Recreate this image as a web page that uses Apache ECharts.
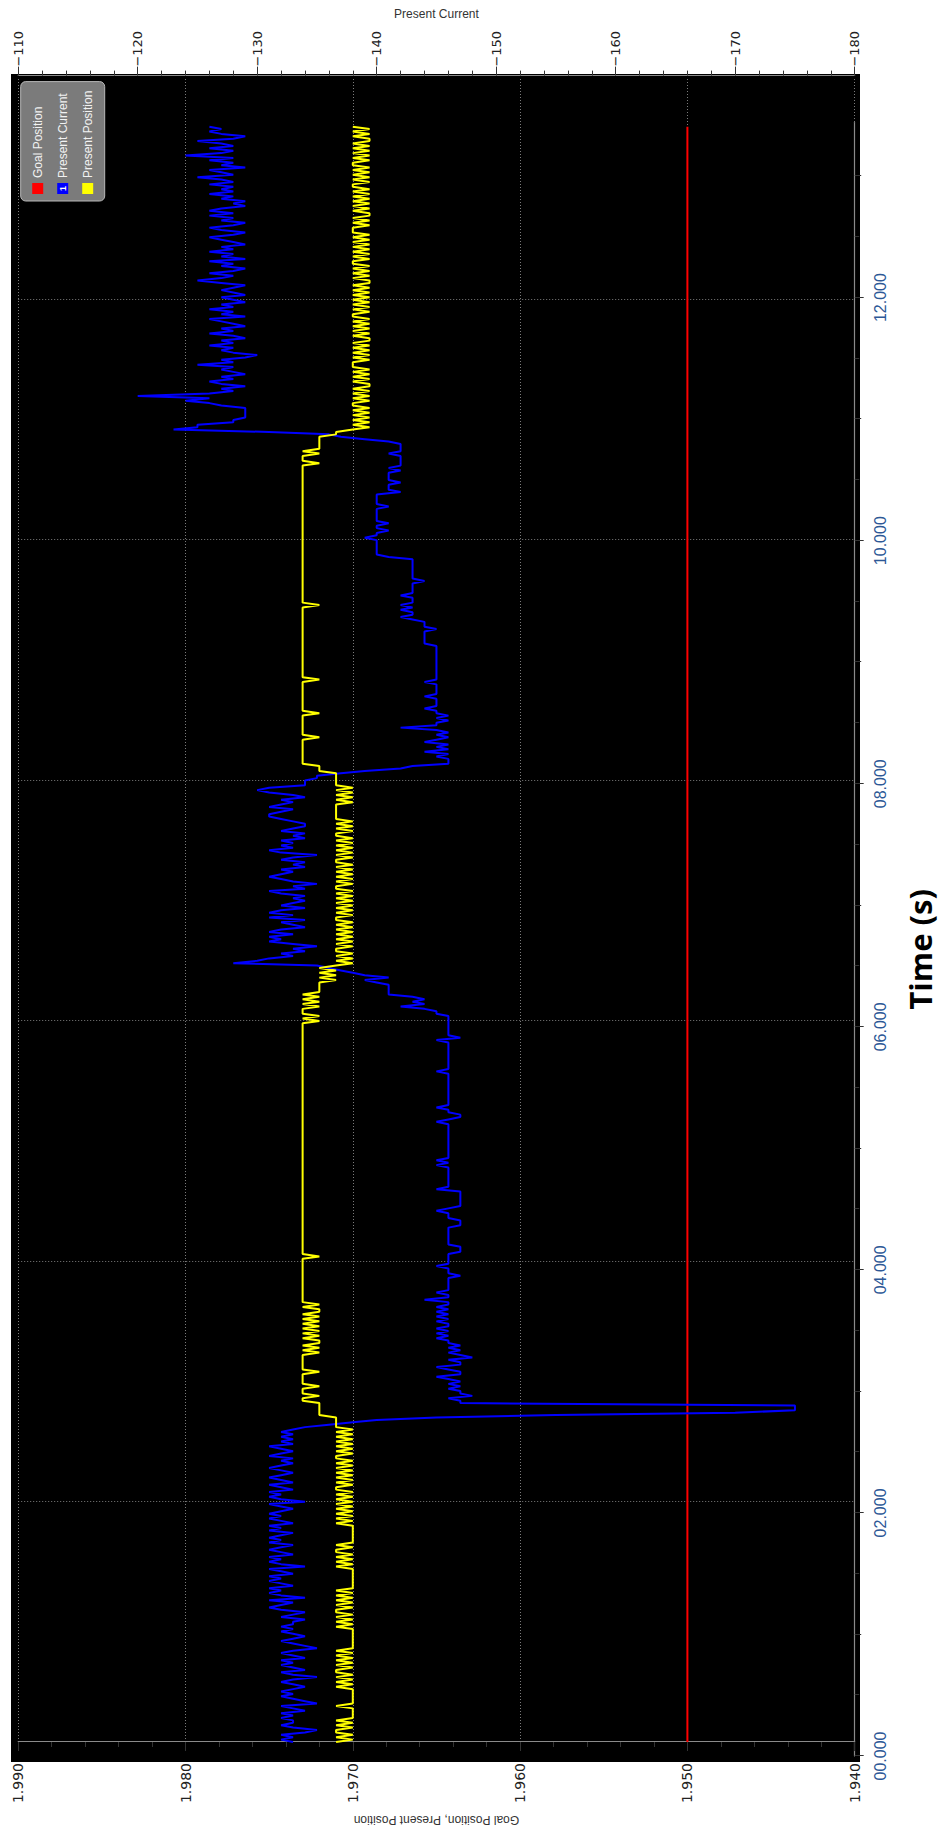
<!DOCTYPE html>
<html>
<head>
<meta charset="utf-8">
<title>Goal Position, Present Position, Present Current</title>
<script src="https://cdn.jsdelivr.net/npm/echarts@6/dist/echarts.min.js"></script>
<style>
  html, body { margin: 0; padding: 0; background: #fff; overflow: hidden; width: 949px; height: 1834px; }
  /* the chart is laid out landscape and turned a quarter turn counter-clockwise */
  #chart { position: absolute; left: 0; top: 1834px; width: 1834px; height: 949px;
           transform-origin: 0 0; transform: rotate(-90deg); }
</style>
</head>
<body>
<div id="chart"></div>
<script>
// ---- recorded samples (one sample every 20 ms, one row per second) ----
const SAMPLE_STEP = 0.02; // seconds

const presentCurrent = [
  -133,-132,-133,-132,-134,-135,-133,-132,-133,-133,-132,-133,-132,-134,-133,-132,-135,-134,-133,-132,-133,-132,-133,-134,-133,
  -132,-133,-135,-133,-132,-134,-133,-132,-133,-132,-134,-133,-132,-133,-135,-134,-133,-132,-133,-134,-133,-132,-133,-132,-133,
  -133,-134,-132,-133,-134,-132,-131,-132,-133,-131,-134,-132,-131,-132,-131,-133,-132,-131,-132,-131,-133,-132,-131,-134,-132,
  -131,-132,-131,-133,-132,-131,-132,-133,-131,-132,-131,-132,-133,-131,-132,-131,-133,-132,-131,-132,-131,-132,-133,-132,-131,
  -134,-132,-131,-132,-131,-133,-132,-131,-133,-132,-131,-132,-133,-132,-131,-132,-133,-132,-133,-131,-132,-133,-132,-131,-133,
  -132,-133,-132,-133,-132,-133,-134,-136,-138,-140,-145,-155,-170,-175,-175,-175,-147,-147,-146,-148,-147,-147,-146,-147,-146,
  -147,-146,-145,-147,-147,-146,-145,-147,-147,-146,-148,-147,-146,-147,-146,-147,-146,-146,-145,-146,-145,-146,-145,-146,-146,
  -145,-146,-145,-146,-145,-146,-145,-146,-146,-144,-146,-146,-145,-146,-146,-146,-146,-146,-146,-147,-146,-146,-146,-145,-146,
  -146,-146,-146,-146,-147,-147,-147,-146,-146,-146,-146,-146,-146,-146,-146,-147,-147,-147,-146,-146,-146,-145,-146,-147,-147,
  -147,-147,-147,-147,-147,-145,-146,-146,-146,-146,-146,-146,-146,-146,-146,-145,-146,-145,-146,-146,-146,-146,-146,-146,-146,
  -146,-146,-146,-146,-146,-146,-146,-146,-145,-146,-147,-147,-146,-146,-145,-146,-146,-146,-146,-146,-146,-146,-146,-146,-146,
  -146,-146,-146,-146,-145,-146,-146,-146,-146,-146,-146,-146,-146,-146,-146,-146,-146,-145,-147,-146,-146,-146,-146,-146,-146,
  -146,-146,-146,-145,-145,-144,-142,-144,-143,-144,-143,-141,-141,-141,-141,-141,-140,-139,-141,-139,-138,-137,-136,-135,-128,
  -130,-131,-133,-132,-134,-133,-135,-133,-131,-132,-131,-133,-131,-132,-134,-133,-132,-134,-131,-133,-131,-132,-134,-132,-133,
  -134,-133,-134,-132,-131,-134,-133,-135,-133,-132,-131,-132,-133,-132,-134,-133,-134,-132,-133,-135,-132,-131,-133,-132,-133,
  -132,-134,-133,-134,-132,-133,-134,-134,-133,-132,-131,-131,-132,-133,-131,-132,-133,-132,-134,-133,-131,-130,-131,-134,-134,
  -134,-135,-135,-137,-139,-142,-143,-146,-146,-146,-145,-146,-144,-146,-145,-146,-144,-145,-146,-145,-146,-145,-142,-145,-145,
  -146,-145,-146,-145,-145,-144,-145,-145,-145,-145,-144,-145,-145,-145,-145,-145,-144,-145,-145,-145,-145,-145,-145,-145,-145,
  -145,-145,-145,-145,-145,-145,-145,-144,-144,-144,-144,-144,-144,-145,-144,-144,-144,-143,-142,-143,-143,-142,-143,-142,-143,
  -143,-143,-142,-143,-143,-143,-143,-143,-144,-143,-143,-143,-143,-143,-143,-143,-143,-143,-141,-140,-140,-140,-140,-140,-140,
  -140,-139,-140,-140,-141,-140,-140,-141,-140,-140,-140,-140,-140,-140,-141,-140,-140,-140,-140,-140,-142,-141,-141,-141,-142,
  -141,-141,-141,-141,-142,-141,-142,-142,-142,-142,-142,-141,-142,-142,-142,-142,-141,-139,-137,-136,-131,-123,-125,-125,-128,
  -128,-129,-129,-129,-129,-129,-127,-126,-124,-126,-120,-126,-128,-127,-129,-127,-126,-128,-127,-129,-128,-127,-128,-125,-128,
  -127,-129,-130,-128,-127,-128,-126,-128,-127,-129,-128,-126,-128,-127,-129,-128,-127,-126,-129,-127,-128,-126,-128,-127,-129,
  -128,-127,-129,-128,-127,-128,-129,-127,-125,-127,-128,-126,-128,-129,-127,-128,-126,-129,-127,-128,-126,-128,-127,-129,-128,
  -127,-126,-128,-129,-127,-126,-128,-129,-127,-128,-126,-128,-126,-127,-129,-128,-129,-127,-128,-126,-128,-127,-128,-126,-128,
  -127,-125,-128,-127,-126,-129,-127,-128,-126,-128,-124,-127,-128,-126,-128,-127,-125,-128,-129,-127,-126,-127,-126
];

const presentPosition = [
  1.971,1.97,1.971,1.97,1.971,1.971,1.97,1.971,1.97,1.971,1.97,1.97,1.97,1.97,1.97,1.971,1.97,1.97,1.97,1.97,1.97,1.97,1.97,1.971,1.97,
  1.971,1.97,1.971,1.97,1.971,1.971,1.97,1.971,1.97,1.971,1.97,1.971,1.97,1.971,1.97,1.97,1.97,1.97,1.97,1.97,1.97,1.97,1.97,1.971,1.97,
  1.971,1.97,1.971,1.97,1.971,1.971,1.97,1.971,1.97,1.971,1.97,1.971,1.97,1.971,1.97,1.97,1.97,1.97,1.97,1.97,1.97,1.97,1.97,1.971,1.97,
  1.971,1.97,1.971,1.97,1.971,1.971,1.97,1.971,1.97,1.97,1.97,1.97,1.97,1.97,1.97,1.97,1.971,1.97,1.971,1.97,1.971,1.97,1.971,1.97,1.971,
  1.97,1.971,1.97,1.971,1.97,1.971,1.971,1.97,1.971,1.97,1.971,1.97,1.971,1.97,1.971,1.97,1.971,1.97,1.971,1.971,1.97,1.971,1.97,1.971,1.97,
  1.971,1.97,1.971,1.97,1.971,1.97,1.971,1.971,1.971,1.971,1.971,1.972,1.972,1.972,1.972,1.972,1.972,1.973,1.973,1.972,1.973,1.973,1.973,1.972,1.973,
  1.973,1.973,1.973,1.973,1.972,1.973,1.973,1.973,1.973,1.973,1.973,1.973,1.972,1.973,1.972,1.973,1.972,1.972,1.973,1.972,1.973,1.972,1.973,1.972,1.973,
  1.972,1.973,1.972,1.973,1.972,1.972,1.973,1.972,1.973,1.973,1.973,1.973,1.973,1.973,1.973,1.973,1.973,1.973,1.973,1.973,1.973,1.973,1.973,1.973,1.973,
  1.973,1.973,1.972,1.973,1.973,1.973,1.973,1.973,1.973,1.973,1.973,1.973,1.973,1.973,1.973,1.973,1.973,1.973,1.973,1.973,1.973,1.973,1.973,1.973,1.973,
  1.973,1.973,1.973,1.973,1.973,1.973,1.973,1.973,1.973,1.973,1.973,1.973,1.973,1.973,1.973,1.973,1.973,1.973,1.973,1.973,1.973,1.973,1.973,1.973,1.973,
  1.973,1.973,1.973,1.973,1.973,1.973,1.973,1.973,1.973,1.973,1.973,1.973,1.973,1.973,1.973,1.973,1.973,1.973,1.973,1.973,1.973,1.973,1.973,1.973,1.973,
  1.973,1.973,1.973,1.973,1.973,1.973,1.973,1.973,1.973,1.973,1.973,1.973,1.973,1.973,1.973,1.973,1.973,1.973,1.973,1.973,1.973,1.973,1.973,1.973,1.973,
  1.972,1.973,1.972,1.973,1.973,1.973,1.972,1.973,1.972,1.973,1.972,1.973,1.972,1.972,1.972,1.972,1.972,1.971,1.972,1.971,1.972,1.971,1.972,1.971,1.97,
  1.971,1.97,1.971,1.97,1.971,1.971,1.97,1.971,1.97,1.971,1.97,1.971,1.97,1.971,1.97,1.971,1.97,1.971,1.971,1.97,1.971,1.97,1.971,1.97,1.971,
  1.97,1.971,1.97,1.971,1.97,1.971,1.971,1.97,1.971,1.97,1.971,1.97,1.971,1.97,1.971,1.97,1.971,1.971,1.97,1.971,1.97,1.971,1.97,1.971,1.97,
  1.971,1.97,1.971,1.971,1.97,1.971,1.97,1.971,1.97,1.971,1.971,1.971,1.971,1.971,1.971,1.971,1.97,1.971,1.97,1.971,1.97,1.971,1.97,1.971,1.971,
  1.971,1.971,1.971,1.971,1.972,1.972,1.972,1.973,1.973,1.973,1.973,1.973,1.973,1.973,1.973,1.973,1.973,1.973,1.972,1.973,1.973,1.973,1.973,1.973,1.973,
  1.973,1.973,1.973,1.972,1.973,1.973,1.973,1.973,1.973,1.973,1.973,1.973,1.973,1.973,1.973,1.973,1.973,1.972,1.973,1.973,1.973,1.973,1.973,1.973,1.973,
  1.973,1.973,1.973,1.973,1.973,1.973,1.973,1.973,1.973,1.973,1.973,1.973,1.973,1.973,1.973,1.973,1.973,1.973,1.973,1.973,1.973,1.973,1.973,1.972,1.973,
  1.973,1.973,1.973,1.973,1.973,1.973,1.973,1.973,1.973,1.973,1.973,1.973,1.973,1.973,1.973,1.973,1.973,1.973,1.973,1.973,1.973,1.973,1.973,1.973,1.973,
  1.973,1.973,1.973,1.973,1.973,1.973,1.973,1.973,1.973,1.973,1.973,1.973,1.973,1.973,1.973,1.973,1.973,1.973,1.973,1.973,1.973,1.973,1.973,1.973,1.973,
  1.973,1.973,1.973,1.973,1.973,1.973,1.973,1.972,1.973,1.973,1.973,1.972,1.973,1.972,1.972,1.972,1.972,1.972,1.972,1.971,1.971,1.97,1.969,1.97,1.969,
  1.97,1.969,1.97,1.969,1.97,1.969,1.97,1.97,1.969,1.97,1.969,1.97,1.969,1.97,1.969,1.969,1.97,1.969,1.97,1.969,1.97,1.969,1.97,1.97,1.97,
  1.969,1.97,1.969,1.97,1.969,1.97,1.969,1.97,1.969,1.969,1.97,1.969,1.97,1.969,1.97,1.969,1.97,1.969,1.97,1.97,1.969,1.97,1.969,1.97,1.969,
  1.97,1.969,1.97,1.969,1.97,1.969,1.97,1.969,1.969,1.97,1.969,1.97,1.969,1.97,1.969,1.97,1.97,1.969,1.97,1.969,1.97,1.969,1.97,1.969,1.97,
  1.969,1.97,1.969,1.97,1.97,1.97,1.969,1.97,1.969,1.97,1.969,1.969,1.97,1.969,1.97,1.969,1.97,1.969,1.97,1.969,1.97,1.969,1.97,1.97,1.969,
  1.97,1.969,1.97,1.969,1.97,1.969,1.97,1.97,1.969,1.97,1.969,1.97,1.969,1.97,1.969,1.97,1.969,1.969,1.97,1.969,1.97,1.969,1.97
];

const goalTimes = [0, 13.44];
const goalPosition = [1.95, 1.95];

// time-axis tick marks (s)
const timeMajorTicks = [0, 2, 4, 6, 8, 10, 12];
const timeSecondTicks = [1, 3, 5, 7, 9, 11, 13];
const timeHalfTicks = [0.5, 1.5, 2.5, 3.5, 4.5, 5.5, 6.5, 7.5, 8.5, 9.5, 10.5, 11.5, 12.5];

const seriesNames = ['Goal Position', 'Present Current', 'Present Position'];
const seriesColors = ['#ff0000', '#0000ff', '#ffff00'];

// ---- layout (landscape frame, before the quarter turn) ----
const W = 1834, H = 949;
const plotLeft = 78, plotRight = 74, plotTop = 18.2, plotBottom = 94.3;
const timeViewMax = 13.84;                                   // plot runs a little past the last sample
const timeEnd = (presentCurrent.length - 1) * SAMPLE_STEP;   // last sample
const pxPerSecond = (W - plotLeft - plotRight) / timeViewMax;
const axisRight = W - plotLeft - timeEnd * pxPerSecond;      // time axis line stops at the last sample

// legend box geometry
const legendLeft = 1633, legendTop = 20.7;
const legendPad = [11, 9, 11, 7];
const legendIcon = 11, legendRow = 12, legendGap = 13;

const gridLine = { show: true, lineStyle: { color: '#7d7d7d', width: 1, type: [1, 2] } };
const axisLineStyle = { show: true, lineStyle: { color: '#8a8a8a', width: 1.2 } };
const tickStyle = { color: '#333', width: 1 };

const toPairs = (vals) => vals.map((v, i) => [+(i * SAMPLE_STEP).toFixed(2), v]);

const chart = echarts.init(document.getElementById('chart'), null, { renderer: 'svg' });

const tickAxis = (gridIndex, values, length) => ({
  type: 'value', gridIndex, min: 0, max: timeEnd, position: 'bottom', offset: 6.5,
  axisLine: { show: false },
  axisTick: { show: true, customValues: values, length, lineStyle: tickStyle },
  axisLabel: { show: false },
  splitLine: { show: false }
});

chart.setOption({
  animation: false,
  backgroundColor: '#fff',
  graphic: [
    { // plot background
      type: 'rect', z: -10, silent: true,
      shape: { x: 72, y: 11, width: 1688, height: 849 },
      style: { fill: '#000' }
    },
    { // axis tag on the Present Current legend swatch
      type: 'text', z: 200, silent: true,
      x: legendLeft + legendPad[3] + legendIcon / 2,
      y: legendTop + legendPad[0] + legendRow + legendGap + legendRow / 2,
      style: { text: '1', fill: '#fff', fontSize: 9, fontWeight: 'bold',
               fontFamily: 'Liberation Sans, Arial, sans-serif', align: 'center', verticalAlign: 'middle' }
    }
  ],
  grid: [
    { left: plotLeft, right: plotRight, top: plotTop, bottom: plotBottom },
    { left: plotLeft, right: axisRight, top: plotTop, bottom: plotBottom },
    { left: plotLeft, right: axisRight, top: plotTop, bottom: plotBottom },
    { left: plotLeft, right: axisRight, top: plotTop, bottom: plotBottom }
  ],
  legend: {
    orient: 'vertical', left: legendLeft, top: legendTop,
    data: seriesNames, icon: 'rect', itemWidth: legendIcon, itemHeight: legendIcon, itemGap: legendGap,
    padding: legendPad,
    backgroundColor: '#7b7b7b', borderColor: '#b8b8b8', borderWidth: 1, borderRadius: 5,
    textStyle: { color: '#f2f2f2', fontSize: 12, fontFamily: 'Liberation Sans, Arial, sans-serif' }
  },
  xAxis: [
    { // data axis: carries the time grid lines only
      type: 'value', gridIndex: 0, min: 0, max: timeViewMax, interval: 2,
      axisLine: { show: false }, axisTick: { show: false }, axisLabel: { show: false },
      splitLine: Object.assign({ showMaxLine: false }, gridLine)
    },
    { // visible time axis
      type: 'value', gridIndex: 1, min: 0, max: timeEnd, position: 'bottom', offset: 6.5,
      axisLine: axisLineStyle,
      axisTick: { show: true, customValues: timeMajorTicks, length: 9, lineStyle: tickStyle },
      axisLabel: {
        customValues: timeMajorTicks, margin: 11, fontSize: 16, color: '#2d5896',
        fontFamily: 'Liberation Sans, Arial, sans-serif',
        formatter: (v) => (v < 10 ? '0' : '') + v.toFixed(3)
      },
      splitLine: { show: false },
      name: 'Time (s)', nameLocation: 'middle', nameGap: 43,
      nameTextStyle: { fontSize: 31, fontWeight: 'bold', color: '#000', padding: [0, 20, 0, 0],
                       fontFamily: 'Open Sans, DejaVu Sans, sans-serif' }
    },
    tickAxis(2, timeSecondTicks, 6.5),
    tickAxis(3, timeHalfTicks, 4.5)
  ],
  yAxis: [
    {
      type: 'value', gridIndex: 0, position: 'left', offset: 7,
      min: 1.94, max: 1.99, interval: 0.01,
      axisLine: axisLineStyle,
      axisTick: { show: true, length: 9, lineStyle: tickStyle },
      minorTick: { show: true, splitNumber: 5, length: 5, lineStyle: tickStyle },
      axisLabel: { margin: 14, fontSize: 14, color: '#222', fontFamily: 'DejaVu Sans, sans-serif',
                   formatter: (v) => v.toFixed(3) },
      splitLine: gridLine,
      name: 'Goal Position, Present Position', nameLocation: 'middle', nameRotate: 90, nameGap: 57,
      nameTextStyle: { fontSize: 12, color: '#333', fontFamily: 'Liberation Sans, Arial, sans-serif' }
    },
    {
      type: 'value', gridIndex: 0, position: 'right', offset: 3,
      min: -180, max: -110, interval: 10,
      axisLine: axisLineStyle,
      axisTick: { show: true, length: 9, lineStyle: tickStyle },
      minorTick: { show: true, splitNumber: 5, length: 5, lineStyle: tickStyle },
      axisLabel: { margin: 9, fontSize: 13, color: '#222', fontFamily: 'DejaVu Sans, sans-serif',
                   formatter: (v) => (v < 0 ? '\u2212' : '') + Math.abs(Math.round(v)) },
      splitLine: { show: false },
      name: 'Present Current', nameLocation: 'middle', nameRotate: -90, nameGap: 48,
      nameTextStyle: { fontSize: 12, color: '#333', fontFamily: 'Liberation Sans, Arial, sans-serif' }
    },
    { type: 'value', gridIndex: 1, show: false },
    { type: 'value', gridIndex: 2, show: false },
    { type: 'value', gridIndex: 3, show: false }
  ],
  series: [
    {
      name: seriesNames[0], type: 'line', xAxisIndex: 0, yAxisIndex: 0,
      data: goalTimes.map((t, i) => [t, goalPosition[i]]),
      symbol: 'none', color: seriesColors[0], lineStyle: { width: 2, color: seriesColors[0] }
    },
    {
      name: seriesNames[1], type: 'line', xAxisIndex: 0, yAxisIndex: 1,
      data: toPairs(presentCurrent),
      symbol: 'none', color: seriesColors[1], lineStyle: { width: 2, color: seriesColors[1] }
    },
    {
      name: seriesNames[2], type: 'line', xAxisIndex: 0, yAxisIndex: 0,
      data: toPairs(presentPosition),
      symbol: 'none', color: seriesColors[2], lineStyle: { width: 2, color: seriesColors[2] }
    }
  ]
});
</script>
</body>
</html>
